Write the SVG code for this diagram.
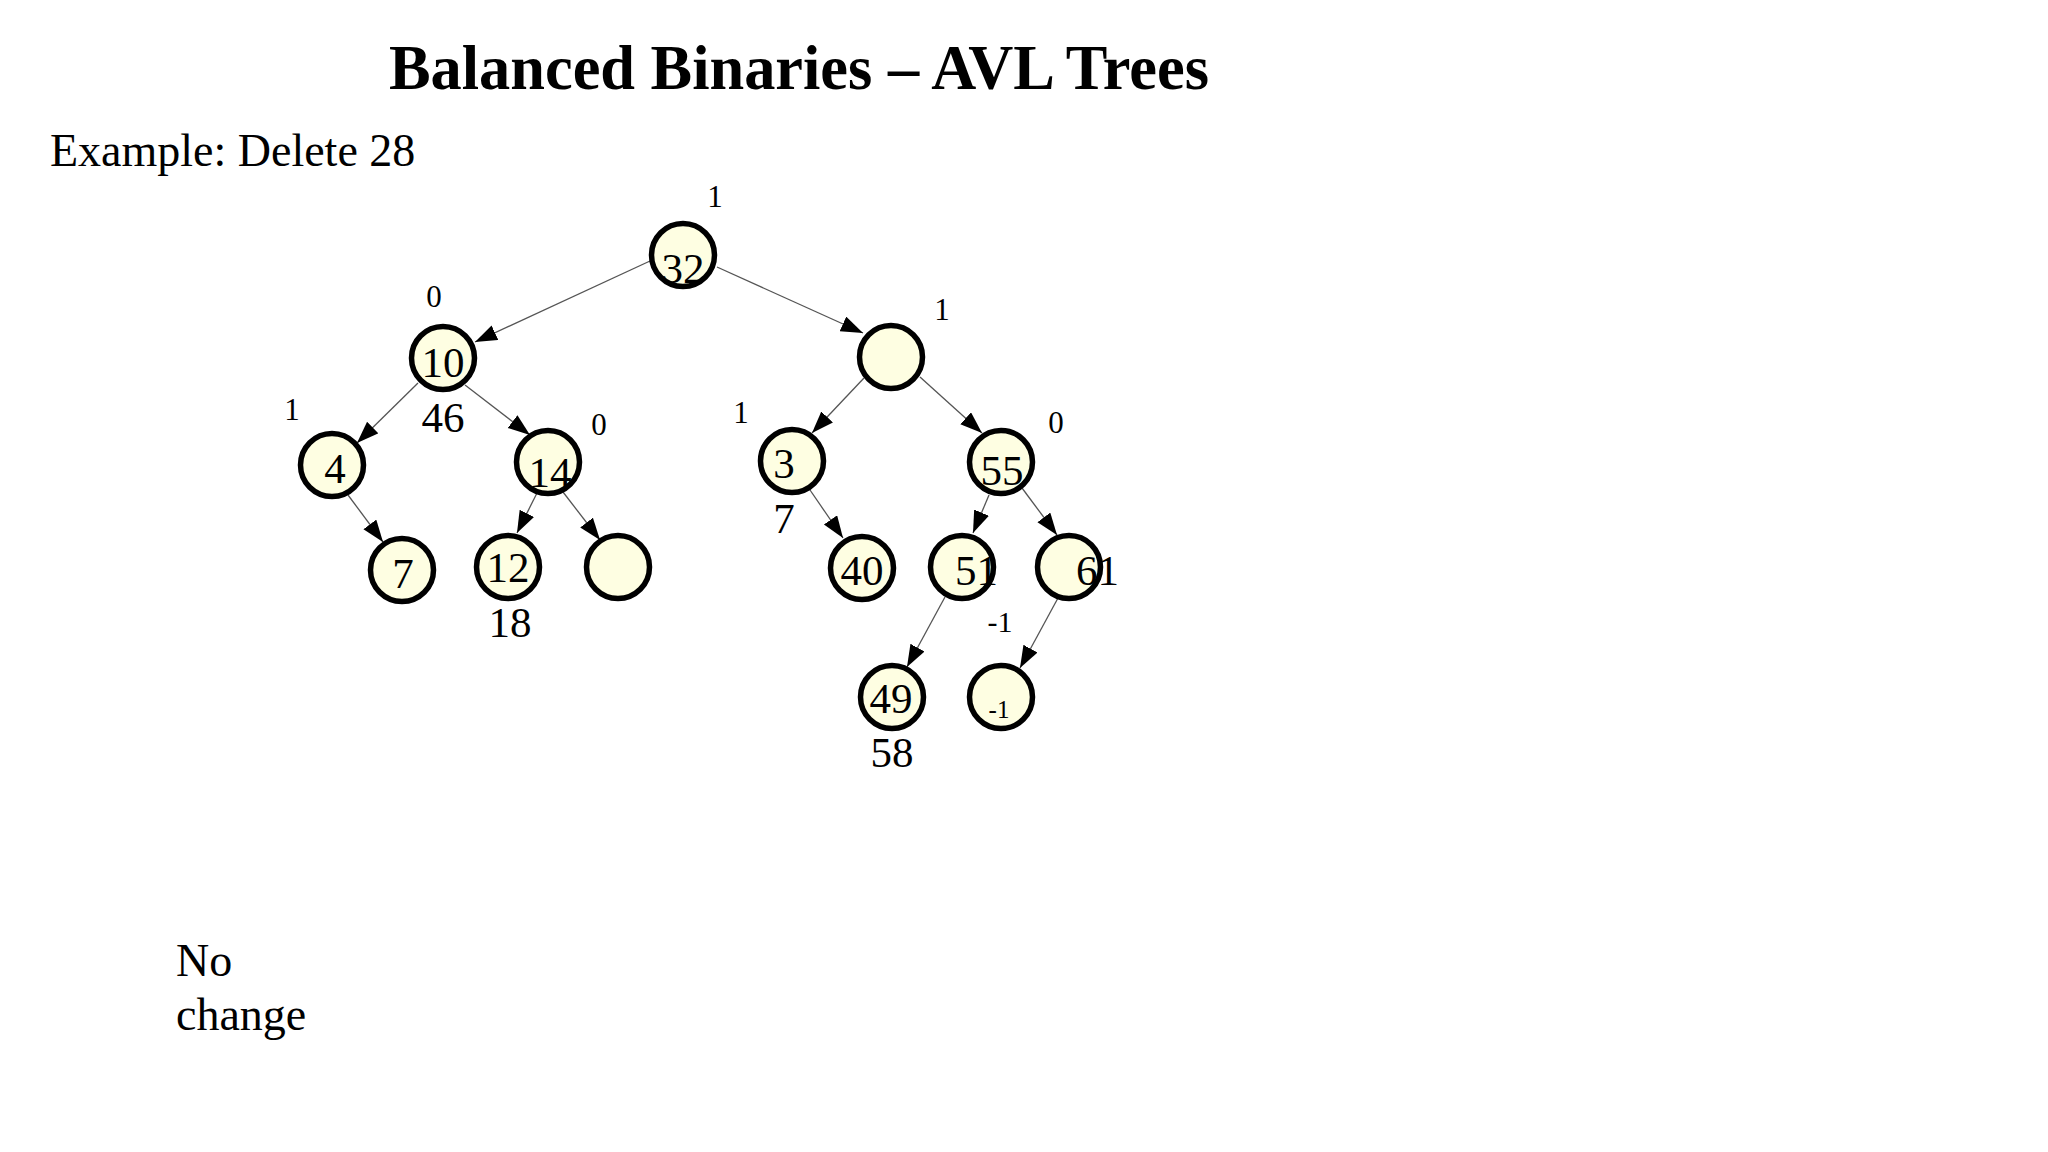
<svg xmlns="http://www.w3.org/2000/svg" width="2048" height="1152" viewBox="0 0 2048 1152">
<style>
.t{font-family:"Liberation Serif","Times New Roman",serif;fill:#000}
.title{font-size:63px;font-weight:bold}
.body{font-size:46px}
.n{font-size:43px;text-anchor:middle}
.b{font-size:31px;text-anchor:middle}
.c{fill:#FEFEE2;stroke:#000;stroke-width:5.5}
.e{stroke:#555;stroke-width:1.3;fill:none;marker-end:url(#ah)}
</style>
<defs>
<marker id="ah" markerUnits="userSpaceOnUse" markerWidth="24" markerHeight="18" refX="22" refY="8" orient="auto">
<path d="M0,0 L22,8 L0,16 Z" fill="#000"/>
</marker>
</defs>
<rect width="2048" height="1152" fill="#fff"/>
<text class="t title" x="389" y="89" textLength="820" lengthAdjust="spacingAndGlyphs">Balanced Binaries – AVL Trees</text>
<text class="t body" x="50" y="166">Example: Delete 28</text>
<text class="t body" x="176" y="976">No</text>
<text class="t body" x="176" y="1030">change</text>
<g id="connectors">
<line class="e" x1="650" y1="261" x2="475" y2="342"/>
<line class="e" x1="717" y1="267" x2="863" y2="333"/>
<line class="e" x1="418" y1="383" x2="357" y2="443"/>
<line class="e" x1="465" y1="385" x2="530" y2="435"/>
<line class="e" x1="348" y1="495" x2="383" y2="542"/>
<line class="e" x1="537" y1="493" x2="517" y2="533"/>
<line class="e" x1="563" y1="492" x2="600" y2="540"/>
<line class="e" x1="864" y1="378" x2="812" y2="433"/>
<line class="e" x1="920" y1="377" x2="982" y2="433"/>
<line class="e" x1="810" y1="490" x2="843" y2="538"/>
<line class="e" x1="989" y1="495" x2="973" y2="533"/>
<line class="e" x1="1022" y1="488" x2="1057" y2="535"/>
<line class="e" x1="945" y1="597" x2="907" y2="667"/>
<line class="e" x1="1058" y1="598" x2="1020" y2="668"/>
</g>
<g id="node-32"><circle class="c" cx="683" cy="255" r="31.5"/><text class="t n" x="683" y="283">32</text></g>
<g id="node-10"><circle class="c" cx="443" cy="358" r="31.5"/><text class="t n" x="443" y="377">10</text></g>
<g id="node-R"><circle class="c" cx="891" cy="357" r="31.5"/></g>
<g id="node-4"><circle class="c" cx="332" cy="465" r="31.5"/><text class="t n" x="335" y="483">4</text></g>
<g id="node-14"><circle class="c" cx="548" cy="462" r="31.5"/><text class="t n" x="550" y="487">14</text></g>
<g id="node-3"><circle class="c" cx="792" cy="461" r="31.5"/><text class="t n" x="784" y="478">3</text></g>
<g id="node-55"><circle class="c" cx="1001" cy="462" r="31.5"/><text class="t n" x="1002" y="485">55</text></g>
<g id="node-7"><circle class="c" cx="402" cy="570" r="31.5"/><text class="t n" x="403" y="588">7</text></g>
<g id="node-12"><circle class="c" cx="508" cy="567" r="31.5"/><text class="t n" x="508" y="582">12</text></g>
<g id="node-E"><circle class="c" cx="618" cy="567" r="31.5"/></g>
<g id="node-40"><circle class="c" cx="862" cy="568" r="31.5"/><text class="t n" x="862" y="585">40</text></g>
<g id="node-51"><circle class="c" cx="962" cy="567" r="31.5"/><text class="t" style="font-size:43px" x="955" y="585">51</text></g>
<g id="node-61"><circle class="c" cx="1069" cy="567" r="31.5"/><text class="t" style="font-size:43px" x="1076" y="585">61</text></g>
<g id="node-49"><circle class="c" cx="892" cy="697" r="31.5"/><text class="t n" x="891" y="713">49</text></g>
<g id="node-m1"><circle class="c" cx="1001" cy="697" r="31.5"/><text class="t" style="font-size:25px;text-anchor:middle" x="999" y="718">-1</text></g>
<g id="labels">
<text class="t n" x="443" y="432">46</text>
<text class="t n" x="510" y="637">18</text>
<text class="t n" x="784" y="533">7</text>
<text class="t n" x="892" y="767">58</text>
<text class="t" style="font-size:30px;text-anchor:middle" x="1000" y="632">-1</text>
<text class="t b" x="715" y="207">1</text>
<text class="t b" x="434" y="307">0</text>
<text class="t b" x="292" y="420">1</text>
<text class="t b" x="599" y="435">0</text>
<text class="t b" x="741" y="423">1</text>
<text class="t b" x="942" y="320">1</text>
<text class="t b" x="1056" y="433">0</text>
</g>
</svg>
